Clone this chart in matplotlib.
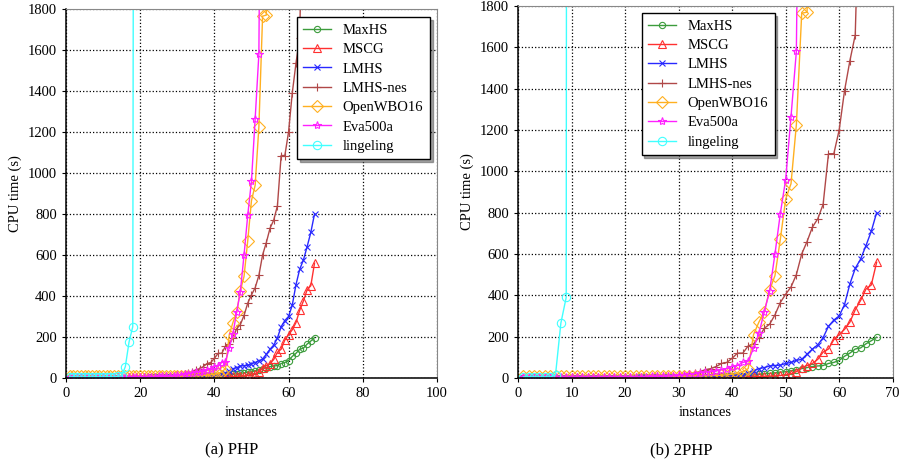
import matplotlib.pyplot as plt

plt.rcParams['font.family'] = ['Liberation Serif', 'DejaVu Serif']

# ---- data (CPU time in s for instance 1..N) ----
maxhs = [1, 1, 1, 1, 1, 1, 1, 1, 1, 1, 1, 1, 1, 1, 1, 2, 2, 2, 2, 2,
         2, 2, 3, 3, 3, 3, 3, 4, 4, 4,
         4, 5, 5, 5, 6, 6, 7, 7, 8, 9, 10, 11,
         12, 14, 17, 20, 22, 25, 28, 30, 35, 40, 45, 50, 55, 58, 60, 70, 75, 85,
         105, 120, 140, 145, 165, 180, 197]
mscg = [1, 1, 1, 1, 1, 1, 1, 1, 1, 1, 1, 1, 1, 1, 1, 1, 1, 1, 1, 2,
        2, 2, 2, 2, 2, 2, 2, 2, 3, 3,
        3, 3, 3, 3, 4, 4, 4, 4, 5, 5, 5, 6, 6, 7, 7, 8, 9,
        10, 12, 15, 20, 30, 50, 60, 70, 90, 125, 140, 185, 210, 235, 270, 330,
        375, 430, 450, 560]
lmhs = [1, 1, 1, 1, 1, 1, 1, 1, 1, 1, 1, 1, 1, 2, 2, 2, 2, 2, 2, 2,
        2, 3, 3, 3, 3, 3, 4, 4, 4, 5,
        5, 5, 6, 6, 7, 7, 8, 9, 10, 11, 12,
        15, 25, 35, 45, 50, 58, 60, 62, 70, 75, 85, 90, 115, 140, 160, 195,
        250, 280, 300, 355, 455, 530, 575, 640, 710, 800]
lmhs_nes = [2, 2, 2, 2, 2, 2, 2, 2, 2, 3, 3, 3, 3, 3, 3, 3, 4, 4, 4, 4,
            5, 5, 5, 6, 6, 7, 8, 9, 10,
            12, 15, 20, 25, 30, 40, 45, 55, 70, 75, 95, 120, 120, 155, 165,
            195, 240, 260, 305, 365, 405, 440, 500, 600, 660, 730, 770, 840,
            1085, 1085, 1200, 1390, 1535, 1660, 2600]
openwbo16 = [8, 8, 8, 8, 8, 8, 8, 8, 8, 8, 8, 8, 8, 8, 8, 8, 8, 8, 8, 8,
             8, 8, 8, 8, 8, 8, 8, 9, 9, 9,
             9, 9, 10, 10, 10, 11, 12, 13, 15, 18, 22, 30, 45,
             210, 270, 320, 425, 495, 670, 865, 940, 1225, 1765, 1770, 3500]
eva500a = [3, 3, 3, 3, 3, 3, 3, 3, 3, 3, 4, 4, 4, 4, 4, 4, 4, 5, 5, 5,
           5, 6, 6, 6, 7, 7, 8, 9, 10, 12,
           14, 17, 20, 25, 28, 30, 35, 40, 45, 55, 60, 75, 80,
           145, 215, 320, 420, 600, 795, 960, 1265, 1580, 4000]
lingeling_php = [5, 5, 5, 5, 5, 5, 5, 5, 5, 5, 5, 5, 5, 8, 10, 55, 175, 250, 12000]
lingeling_2php = [5, 5, 5, 5, 5, 5, 15, 265, 390, 35000]

shared = [
    ('MaxHS', maxhs, '#3c9c3c', 'o', 4.5),
    ('MSCG', mscg, '#ff3030', '^', 5.5),
    ('LMHS', lmhs, '#2828ff', 'x', 5),
    ('LMHS-nes', lmhs_nes, '#b04848', '+', 6),
    ('OpenWBO16', openwbo16, '#ffb020', 'D', 6),
    ('Eva500a', eva500a, '#ff20ff', '*', 6),
]

fig = plt.figure(figsize=(9, 4.66), dpi=100)
ax_a = fig.add_axes([0.0733, 0.189, 0.4122, 0.7918])
ax_b = fig.add_axes([0.5756, 0.189, 0.4163, 0.7982])


def draw(ax, ling, xmax, xstep):
    for name, vals, col, mk, ms in shared + [('lingeling', ling, '#40ffff', 'o', 6)]:
        xs = range(1, len(vals) + 1)
        filled = mk in ('x', '+')
        ax.plot(xs, vals, color=col, marker=mk, markersize=ms, linewidth=1,
                markerfacecolor=col if filled else 'none', markeredgewidth=0.8,
                label=name)
    ax.set_xlim(0, xmax)
    ax.set_ylim(0, 1800)
    ax.set_xticks(range(0, xmax + 1, xstep))
    ax.set_yticks(range(0, 1801, 200))
    ax.grid(True, color='k', linestyle=':', linewidth=0.9)
    ax.tick_params(labelsize=10.5, length=3, direction='out')
    ax.set_xlabel('instances', fontsize=10.5, labelpad=4)
    ax.set_ylabel('CPU time (s)', fontsize=10.5)
    for s in ('top', 'right'):
        ax.spines[s].set_color('#888888')
    for s in ('left', 'bottom'):
        ax.spines[s].set_linewidth(1.1)


draw(ax_a, lingeling_php, 100, 20)
draw(ax_b, lingeling_2php, 70, 10)

leg_kw = dict(fontsize=10.5, handlelength=1.9, frameon=True, shadow=True,
              fancybox=False, edgecolor='k', framealpha=1, borderpad=0.45,
              labelspacing=0.42, borderaxespad=0, handletextpad=0.8)
la = ax_a.legend(loc='upper right', bbox_to_anchor=(0.981, 0.978), **leg_kw)
lb = ax_b.legend(loc='upper left', bbox_to_anchor=(0.33, 0.981), **leg_kw)
for lg in (la, lb):
    lg.get_frame().set_linewidth(1.0)

fig.text(0.257, 0.025, '(a) PHP', ha='center', fontsize=12)
fig.text(0.757, 0.025, '(b) 2PHP', ha='center', fontsize=12)

fig.savefig('out.png', dpi=100)
